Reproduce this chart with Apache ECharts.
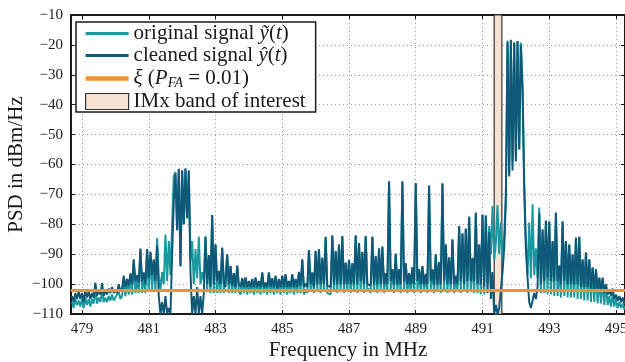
<!DOCTYPE html>
<html><head><meta charset="utf-8">
<script src="https://cdn.jsdelivr.net/npm/echarts@6/dist/echarts.min.js"></script>
<style>html,body{margin:0;padding:0;background:#fff}#c{width:625px;height:362px}</style>
</head><body><div id="c"></div>
<script>
// Frequency bins (MHz)
const freqMHz = [
478.7,478.75,478.8,478.85,478.9,478.95,479,479.05,479.1,479.15,479.2,479.25,479.3,479.35,479.4,479.45,479.5,479.55,479.6,479.65,
479.7,479.75,479.8,479.85,479.9,479.95,480,480.05,480.1,480.15,480.2,480.25,480.3,480.35,480.4,480.45,480.5,480.55,480.6,480.65,
480.7,480.75,480.8,480.85,480.9,480.95,481,481.05,481.1,481.15,481.2,481.25,481.3,481.35,481.4,481.45,481.5,481.55,481.6,481.65,
481.7,481.75,481.8,481.85,481.9,481.95,482,482.05,482.1,482.15,482.2,482.25,482.3,482.35,482.4,482.45,482.5,482.55,482.6,482.65,
482.7,482.75,482.8,482.85,482.9,482.95,483,483.05,483.1,483.15,483.2,483.25,483.3,483.35,483.4,483.45,483.5,483.55,483.6,483.65,
483.7,483.75,483.8,483.85,483.9,483.95,484,484.05,484.1,484.15,484.2,484.25,484.3,484.35,484.4,484.45,484.5,484.55,484.6,484.65,
484.7,484.75,484.8,484.85,484.9,484.95,485,485.05,485.1,485.15,485.2,485.25,485.3,485.35,485.4,485.45,485.5,485.55,485.6,485.65,
485.7,485.75,485.8,485.85,485.9,485.95,486,486.05,486.1,486.15,486.2,486.25,486.3,486.35,486.4,486.45,486.5,486.55,486.6,486.65,
486.7,486.75,486.8,486.85,486.9,486.95,487,487.05,487.1,487.15,487.2,487.25,487.3,487.35,487.4,487.45,487.5,487.55,487.6,487.65,
487.7,487.75,487.8,487.85,487.9,487.95,488,488.05,488.1,488.15,488.2,488.25,488.3,488.35,488.4,488.45,488.5,488.55,488.6,488.65,
488.7,488.75,488.8,488.85,488.9,488.95,489,489.05,489.1,489.15,489.2,489.25,489.3,489.35,489.4,489.45,489.5,489.55,489.6,489.65,
489.7,489.75,489.8,489.85,489.9,489.95,490,490.05,490.1,490.15,490.2,490.25,490.3,490.35,490.4,490.45,490.5,490.55,490.6,490.65,
490.7,490.75,490.8,490.85,490.9,490.95,491,491.05,491.1,491.15,491.2,491.25,491.3,491.35,491.4,491.45,491.5,491.55,491.6,491.65,
491.7,491.75,491.8,491.85,491.9,491.95,492,492.05,492.1,492.15,492.2,492.25,492.3,492.35,492.4,492.45,492.5,492.55,492.6,492.65,
492.7,492.75,492.8,492.85,492.9,492.95,493,493.05,493.1,493.15,493.2,493.25,493.3,493.35,493.4,493.45,493.5,493.55,493.6,493.65,
493.7,493.75,493.8,493.85,493.9,493.95,494,494.05,494.1,494.15,494.2,494.25,494.3,494.35,494.4,494.45,494.5,494.55,494.6,494.65,
494.7,494.75,494.8,494.85,494.9,494.95,495,495.05,495.1,495.15,495.2,495.25,495.3
];
// Original signal PSD (dBm/Hz)
const originalPSD = [
-106,-108,-105,-107,-105.5,-107.5,-105,-108,-104.5,-107,-105,-107.5,-105,-106.5,-102,-106.5,-104.5,-106,-102.5,-106,
-104.5,-106,-104,-105.5,-103.5,-105.5,-104.5,-105,-102.5,-105,-104,-98.5,-104,-99,-103.5,-97,-103.5,-92,-103,-98,
-103,-88.5,-103,-96.5,-103,-88.5,-102.5,-89.5,-102,-92,-102,-84.6,-97,-102,-96,-100,-83.4,-99,-85.6,-97,
-80,-64,-62.5,-82,-61.8,-94,-62,-80,-61.6,-78,-62.5,-92,-85.6,-100,-88.3,-98,-84.1,-100,-96,-99,
-84,-102,-90.5,-103,-77,-103,-87,-103,-95.8,-103,-88,-103,-103.5,-90.2,-103,-94,-103,-96.5,-103,-94,
-102.5,-103.5,-98.2,-103,-98,-103.5,-99.2,-103,-98.5,-103.5,-98,-103,-99.2,-103.5,-96.3,-103,-99.7,-103.5,-96.3,-103,
-98.2,-103.5,-97.4,-103,-98.5,-103.5,-97.4,-103,-96.9,-103.5,-99.2,-103,-96.9,-103.5,-98.5,-103,-96.1,-103,-91.9,-103.5,
-102,-103,-88.8,-102.5,-96.3,-103,-89.1,-102.5,-88.5,-103,-91.3,-102.5,-84.4,-103,-102.5,-103.5,-83.9,-102.5,-89.1,-103,
-86.9,-102.5,-84.1,-103,-93,-102.5,-92.1,-103,-93.2,-102.5,-83.9,-103,-86.5,-102.5,-89.4,-103,-84.1,-102.5,-101.5,-103,
-84.3,-102.5,-90.8,-103,-88.2,-102.5,-87.6,-103,-96.5,-102.5,-65.8,-102,-95.2,-103,-90,-102.5,-95.2,-103,-65.8,-102,
-93.2,-103,-96.5,-102.5,-94.5,-103,-66.4,-102,-95.2,-103,-94.2,-102.5,-96.7,-103,-67.2,-102,-95.2,-103,-90.2,-102.5,
-92.8,-103,-66.5,-102,-86.9,-103,-91.2,-102.5,-85.2,-103,-97.4,-102.5,-80.8,-103,-83.2,-102.5,-81.6,-103,-77.6,-102.5,
-91.4,-103,-76.3,-103,-86.9,-103.5,-76.9,-103.5,-77.2,-100,-80.6,-90,-73.9,-92,-86,-73.6,-90,-79.4,-92,-84,
-70,-18.5,-63,-18.6,-59,-19.1,-57,-18.8,-55,-19.2,-34,-66,-86,-97,-79.4,-98,-73.3,-97,-88,-98,
-74.4,-103,-81.9,-103,-78.9,-103.5,-79.2,-103.5,-85.8,-104,-76.3,-104,-94,-104.5,-79.2,-104,-85.8,-104.5,-86.9,-104.5,
-90.2,-104.5,-84.6,-105,-84.3,-105,-91.9,-105.5,-89.6,-105.5,-91.9,-106,-94.6,-106,-95.2,-106.5,-98,-106.5,-98,-107,
-100.2,-107,-104,-107.5,-103.5,-107.5,-105,-108,-106,-108,-106.5,-108.5,-107
];
// Cleaned signal PSD (dBm/Hz)
const cleanedPSD = [
-104,-106,-103,-105,-102.5,-105,-103,-106,-102,-104.5,-102.5,-105,-103,-104.5,-99.5,-104,-102,-103.5,-99.7,-104,
-102,-103.5,-101.5,-103,-101,-103,-102,-103,-100,-102.5,-101.5,-97.2,-101,-98.3,-100.5,-96.4,-100,-91.7,-99,-97,
-99.5,-88.1,-99,-96.1,-100,-88.3,-98,-89.2,-97,-91.7,-99,-87,-104,-110,-106,-110,-104,-110,-108,-110,
-90,-72,-63,-82,-61.4,-94,-61.9,-80,-61.3,-78,-61.9,-96,-110,-104,-110,-101,-110,-104,-110,-103,
-84.2,-100,-90.3,-101,-76.9,-100,-86.7,-99,-95.6,-100,-87.8,-99.4,-101,-90,-100,-93.9,-100.5,-96.3,-101,-93.8,
-100,-101,-98,-101,-97.8,-101,-99,-101,-98.3,-101,-97.8,-101,-99,-101,-96.1,-101,-99.5,-101,-96.1,-101,
-98,-101,-97.2,-101.5,-98.3,-101,-97.2,-101,-96.7,-101,-99,-101,-96.7,-101,-98.3,-101,-95.9,-100.5,-91.7,-101,
-99.9,-101,-88.6,-100,-96.1,-101,-88.9,-100,-88.3,-100,-91.1,-100,-84.2,-100.5,-100,-101,-83.7,-100,-88.9,-100,
-86.7,-100,-83.9,-100,-92.8,-100,-91.9,-100,-93,-100,-83.7,-100,-86.3,-99,-89.2,-100,-83.9,-100,-99.4,-100.5,
-84.1,-100,-90.6,-100,-88,-100,-87.4,-100,-96.3,-100,-65.6,-99,-95,-100,-89.8,-100,-95,-100,-65.6,-99,
-93,-100,-96.3,-100,-94.3,-100,-66.2,-99,-95,-100,-94,-100,-96.5,-100,-67,-99,-95,-100,-90,-100,
-92.6,-100,-66.3,-99,-86.7,-100,-91,-100,-85,-100,-97.2,-100,-80.6,-99,-83,-100,-81.4,-99,-77.4,-99,
-91.2,-99,-76.1,-100,-86.7,-100,-76.7,-101,-77,-103,-82.6,-105,-96,-110,-107,-110,-108,-102,-96,-88,
-72,-19,-64,-18.3,-62,-19.3,-59,-18.7,-55,-20,-35,-68,-88,-98,-106,-108,-107.8,-103,-105,-101,
-76.4,-100,-81.7,-99,-78.7,-98,-79,-99,-85.6,-99,-76.1,-99,-93.8,-100,-79,-99,-85.6,-100,-86.7,-100,
-90,-100,-84.4,-100,-84.1,-101,-91.7,-101,-89.4,-101,-91.7,-101.5,-94.4,-102,-95,-102,-97.8,-102.5,-97.8,-103,
-100,-103.5,-102,-104,-101.5,-105,-103.5,-105.5,-104,-106,-104.5,-106.5,-105
];
const thresholdDbm = -101.9;          // xi (P_FA = 0.01)
const bandMHz = [491.35, 491.58];     // IMx band of interest
const xTicks = [479, 481, 483, 485, 487, 489, 491, 493, 495];
const xRange = [478.67, 495.27];
const yRange = [-110, -10];

const TEAL = '#1a9aa0', DARK = '#0f5878', ORANGE = '#f2922f', BAND = '#f7e3d2';
const FONT = 'Liberation Serif', INK = '#1a1a1a';

const legendLabels = {
  original: 'original signal {m|ỹ}({m|t})',
  cleaned: 'cleaned signal {m|ŷ}({m|t})',
  threshold: '{m|ξ} ({m|P}{s|FA} = 0.01)',
  band: 'IMx band of interest'
};

const chart = echarts.init(document.getElementById('c'));
const axisLineStyle = { color: INK, width: 2 };
const gridLine = { show: true, lineStyle: { color: '#999', width: 1, type: [1, 3] } };

chart.setOption({
  animation: false,
  backgroundColor: '#fff',
  grid: { left: 71, top: 15, right: 0, bottom: 48, containLabel: false, outerBoundsMode: 'none' },
  legend: {
    orient: 'vertical', left: 76, top: 22,
    itemWidth: 43, itemHeight: 16, itemGap: 1,
    padding: [1, 10, 0, 9],
    backgroundColor: '#fff', borderColor: INK, borderWidth: 1.5, borderRadius: 0,
    selectedMode: false,
    textStyle: {
      fontFamily: FONT, fontSize: 21, lineHeight: 21, color: INK,
      rich: {
        m: { fontFamily: FONT, fontStyle: 'italic', fontSize: 21, lineHeight: 21, color: INK },
        s: { fontFamily: FONT, fontStyle: 'italic', fontSize: 14, lineHeight: 21, color: INK, padding: [9, 0, 0, 0] }
      }
    },
    formatter: n => legendLabels[n],
    data: [
      { name: 'original', icon: 'path://M0,0h40v3h-40z', itemStyle: { color: TEAL, borderWidth: 0 } },
      { name: 'cleaned', icon: 'path://M0,0h40v3h-40z', itemStyle: { color: DARK, borderWidth: 0 } },
      { name: 'threshold', icon: 'path://M0,0h40v4h-40z', itemStyle: { color: ORANGE, borderWidth: 0 } },
      { name: 'band', icon: 'rect', itemStyle: { color: BAND, borderColor: '#333', borderWidth: 1.2 } }
    ]
  },
  xAxis: [{
    type: 'value', min: xRange[0], max: xRange[1], position: 'bottom',
    axisLine: { show: true, onZero: false, lineStyle: axisLineStyle },
    axisTick: { show: true, inside: true, length: 4, customValues: xTicks, lineStyle: { color: INK } },
    axisLabel: { customValues: xTicks, fontFamily: FONT, fontSize: 15, color: INK, margin: 8 },
    splitLine: gridLine,
    name: 'Frequency in MHz', nameLocation: 'middle', nameGap: 26, nameMoveOverlap: false,
    nameTextStyle: { fontFamily: FONT, fontSize: 21, color: INK }
  }, {
    type: 'value', min: xRange[0], max: xRange[1], position: 'top',
    axisLine: { show: true, onZero: false, lineStyle: axisLineStyle },
    axisTick: { show: true, inside: true, length: 4, customValues: xTicks, lineStyle: { color: INK } },
    axisLabel: { show: false }, splitLine: { show: false }
  }],
  yAxis: [{
    type: 'value', min: yRange[0], max: yRange[1], interval: 10,
    axisLine: { show: true, onZero: false, lineStyle: axisLineStyle },
    axisTick: { show: true, inside: true, length: 4, lineStyle: { color: INK } },
    axisLabel: { fontFamily: FONT, fontSize: 15, color: INK, margin: 8,
      formatter: v => (v < 0 ? '\u2212' + Math.abs(v) : String(v)) },
    splitLine: gridLine,
    name: 'PSD in dBm/Hz', nameLocation: 'middle', nameGap: 44, nameRotate: 90, nameMoveOverlap: false,
    nameTextStyle: { fontFamily: FONT, fontSize: 21, color: INK }
  }, {
    type: 'value', min: yRange[0], max: yRange[1], interval: 10, position: 'right',
    axisLine: { show: true, onZero: false, lineStyle: axisLineStyle },
    axisTick: { show: true, inside: true, length: 4, lineStyle: { color: INK } },
    axisLabel: { show: false }, splitLine: { show: false }
  }],
  series: [
    {
      name: 'band', type: 'line', data: [], z: 1, symbol: 'none',
      lineStyle: { color: BAND }, itemStyle: { color: BAND },
      markArea: {
        silent: true,
        itemStyle: { color: BAND, borderColor: '#333', borderWidth: 1.2 },
        data: [[{ xAxis: bandMHz[0] }, { xAxis: bandMHz[1] }]]
      }
    },
    {
      name: 'original', type: 'line', z: 2, symbol: 'none', showSymbol: false,
      lineStyle: { color: TEAL, width: 2 }, itemStyle: { color: TEAL },
      data: freqMHz.map((f, i) => [f, originalPSD[i]])
    },
    {
      name: 'cleaned', type: 'line', z: 3, symbol: 'none', showSymbol: false,
      lineStyle: { color: DARK, width: 2 }, itemStyle: { color: DARK },
      data: freqMHz.map((f, i) => [f, cleanedPSD[i]])
    },
    {
      name: 'threshold', type: 'line', data: [], z: 5, symbol: 'none',
      lineStyle: { color: ORANGE, width: 3 }, itemStyle: { color: ORANGE },
      markLine: {
        silent: true, symbol: 'none', label: { show: false },
        lineStyle: { color: ORANGE, width: 3, type: 'solid' },
        data: [{ yAxis: thresholdDbm }]
      }
    }
  ]
});
</script>
</body></html>
